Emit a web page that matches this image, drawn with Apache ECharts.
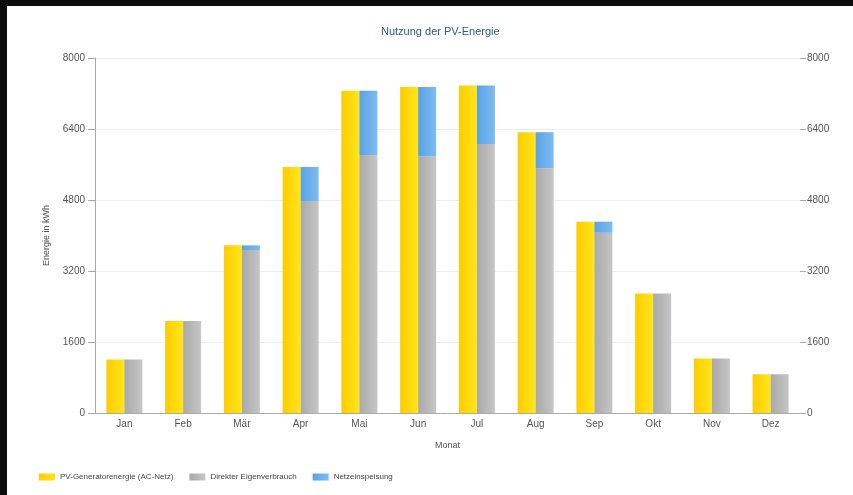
<!DOCTYPE html>
<html>
<head>
<meta charset="utf-8">
<script src="https://cdn.jsdelivr.net/npm/echarts@6/dist/echarts.min.js"></script>
<style>
  html, body { margin: 0; padding: 0; background: #0c0c0c; }
  #chart { position: absolute; left: 7px; top: 6px; width: 846px; height: 489px; background: #fff; }
</style>
</head>
<body>
<div id="chart"></div>
<script>
// Monate und Werte (kWh)
var monate = ['Jan', 'Feb', 'Mär', 'Apr', 'Mai', 'Jun', 'Jul', 'Aug', 'Sep', 'Okt', 'Nov', 'Dez'];
var pvEnergie = [1205, 2076, 3778, 5545, 7260, 7344, 7380, 6328, 4311, 2694, 1227, 873];
var eigenverbrauch = [1205, 2076, 3672, 4778, 5816, 5778, 6064, 5516, 4062, 2694, 1227, 873];
var netzeinspeisung = [0, 0, 106, 767, 1444, 1566, 1316, 812, 249, 0, 0, 0];
var yTicks = [0, 1600, 3200, 4800, 6400, 8000];

function verlauf(links, rechts) {
  return new echarts.graphic.LinearGradient(0, 0, 1, 0, [
    { offset: 0, color: links },
    { offset: 1, color: rechts }
  ]);
}

var myChart = echarts.init(document.getElementById('chart'));

var achsenText = {
  fontFamily: 'Liberation Sans', fontSize: 10, color: '#555',
  formatter: function (v) { return String(v); }
};

var option = {
  animation: false,
  textStyle: { fontFamily: 'Liberation Sans' },
  title: {
    text: 'Nutzung der PV-Energie',
    left: 369,
    top: 15,
    textStyle: { fontSize: 11, fontWeight: 'normal', color: '#2b5b88', fontFamily: 'Liberation Sans' }
  },
  legend: {
    left: 32,
    top: 467,
    padding: 0,
    itemWidth: 16,
    itemHeight: 7,
    itemGap: 16,
    icon: 'rect',
    textStyle: { fontSize: 8, color: '#444', fontFamily: 'Liberation Sans' },
    data: ['PV-Generatorenergie (AC-Netz)', 'Direkter Eigenverbrauch', 'Netzeinspeisung']
  },
  grid: { left: 88, right: 53, top: 52, bottom: 82 },
  xAxis: {
    type: 'category',
    data: monate,
    name: 'Monat',
    nameLocation: 'middle',
    nameGap: 28,
    nameTextStyle: { fontSize: 9, color: '#555' },
    axisLine: { lineStyle: { color: '#aaa' } },
    axisTick: { alignWithLabel: true, length: 4, lineStyle: { color: '#aaa' } },
    axisLabel: { margin: 6, fontFamily: 'Liberation Sans', fontSize: 10, color: '#555' }
  },
  yAxis: [{
    type: 'value',
    min: yTicks[0],
    max: yTicks[yTicks.length - 1],
    interval: 1600,
    name: 'Energie in kWh',
    nameLocation: 'middle',
    nameGap: 44,
    nameTextStyle: { fontSize: 9, color: '#555' },
    axisLine: { show: true, lineStyle: { color: '#aaa' } },
    axisTick: { show: true, length: 7, lineStyle: { color: '#aaa' } },
    axisLabel: Object.assign({ margin: 10 }, achsenText),
    splitLine: { lineStyle: { color: '#eeeeee' } }
  }, {
    type: 'value',
    position: 'right',
    min: yTicks[0],
    max: yTicks[yTicks.length - 1],
    interval: 1600,
    axisLine: { show: false },
    axisTick: { show: true, length: 6, lineStyle: { color: '#aaa' } },
    axisLabel: Object.assign({ margin: 7 }, achsenText),
    splitLine: { show: false }
  }],
  series: [{
    name: 'PV-Generatorenergie (AC-Netz)',
    type: 'bar',
    stack: 'pv',
    barWidth: 18,
    barGap: '0%',
    itemStyle: { color: verlauf('#ffcc00', '#ffe61a') },
    data: pvEnergie
  }, {
    name: 'Direkter Eigenverbrauch',
    type: 'bar',
    stack: 'nutzung',
    barWidth: 18,
    itemStyle: { color: verlauf('#a9a9a9', '#c6c6c6') },
    data: eigenverbrauch
  }, {
    name: 'Netzeinspeisung',
    type: 'bar',
    stack: 'nutzung',
    barWidth: 18,
    itemStyle: { color: verlauf('#5aa2e6', '#7ebcf0') },
    data: netzeinspeisung
  }]
};

myChart.setOption(option);
</script>
</body>
</html>
